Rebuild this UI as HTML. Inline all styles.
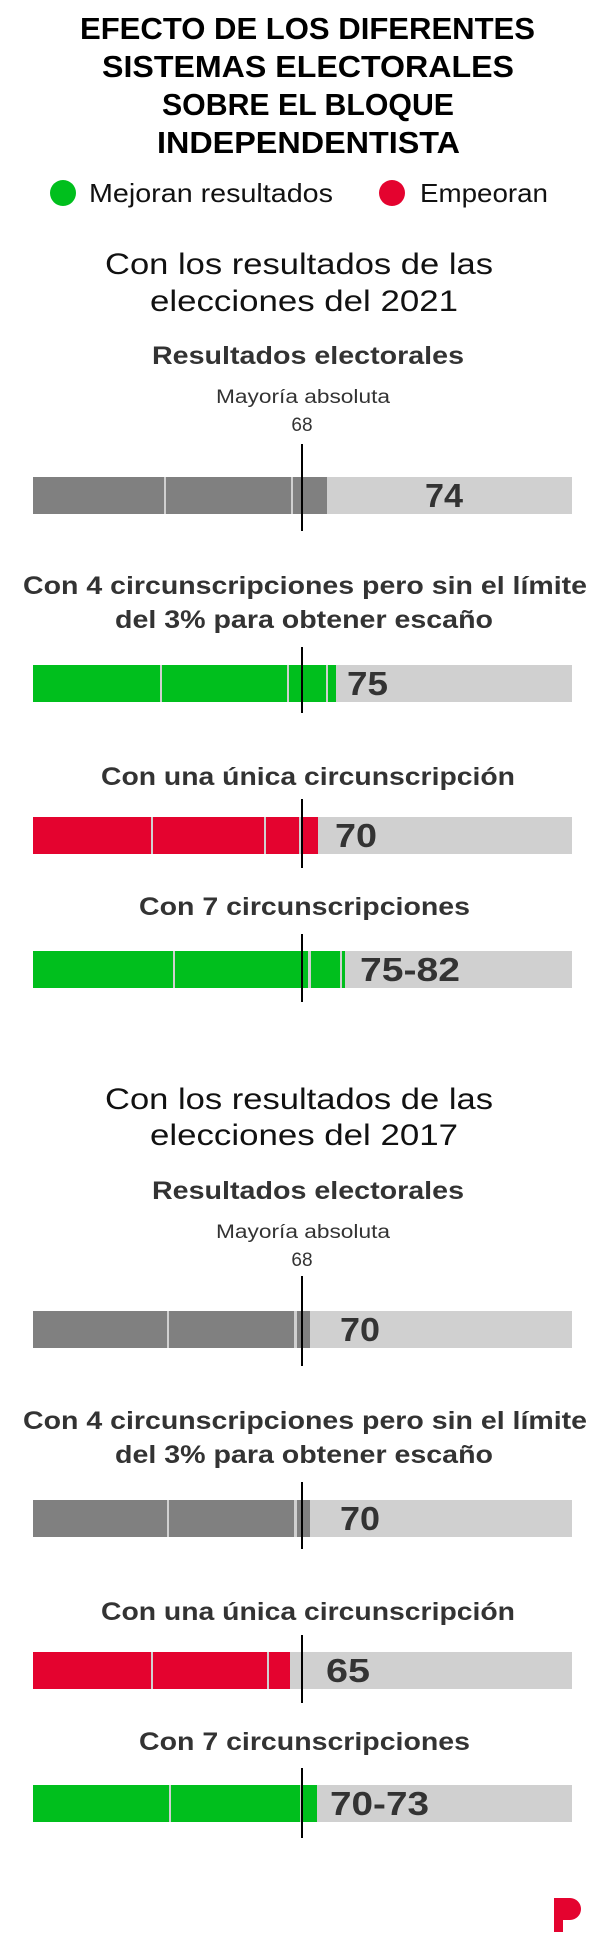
<!DOCTYPE html>
<html><head><meta charset="utf-8"><style>html,body{margin:0;padding:0;background:#fff}svg{display:block}</style></head>
<body>
<svg width="600" height="1950" viewBox="0 0 600 1950" xmlns="http://www.w3.org/2000/svg" font-family="Liberation Sans, sans-serif">
<g font-weight="900" font-size="31" fill="#000" text-anchor="start">
<text x="80" y="39" textLength="455" lengthAdjust="spacingAndGlyphs">EFECTO DE LOS DIFERENTES</text>
<text x="102" y="77" textLength="412" lengthAdjust="spacingAndGlyphs">SISTEMAS ELECTORALES</text>
<text x="162" y="115" textLength="292" lengthAdjust="spacingAndGlyphs">SOBRE EL BLOQUE</text>
<text x="157" y="153" textLength="303" lengthAdjust="spacingAndGlyphs">INDEPENDENTISTA</text>
</g>
<circle cx="63" cy="193" r="13" fill="#00bf1d"/>
<text x="89" y="202" font-size="26" fill="#111" textLength="244" lengthAdjust="spacingAndGlyphs">Mejoran resultados</text>
<circle cx="392" cy="193" r="13" fill="#e4032f"/>
<text x="420" y="202" font-size="26" fill="#111" textLength="128" lengthAdjust="spacingAndGlyphs">Empeoran</text>

<g font-size="30" fill="#111">
<text x="105" y="274" textLength="388" lengthAdjust="spacingAndGlyphs">Con los resultados de las</text>
<text x="150" y="311" textLength="308" lengthAdjust="spacingAndGlyphs">elecciones del 2021</text>
<text x="105" y="1109" textLength="388" lengthAdjust="spacingAndGlyphs">Con los resultados de las</text>
<text x="150" y="1145" textLength="308" lengthAdjust="spacingAndGlyphs">elecciones del 2017</text>
</g>

<g font-size="25" font-weight="bold" fill="#333">
<text x="152" y="364" textLength="312" lengthAdjust="spacingAndGlyphs">Resultados electorales</text>
<text x="23" y="594" textLength="564" lengthAdjust="spacingAndGlyphs">Con 4 circunscripciones pero sin el límite</text>
<text x="115" y="628" textLength="378" lengthAdjust="spacingAndGlyphs">del 3% para obtener escaño</text>
<text x="101" y="785" textLength="414" lengthAdjust="spacingAndGlyphs">Con una única circunscripción</text>
<text x="139" y="915" textLength="331" lengthAdjust="spacingAndGlyphs">Con 7 circunscripciones</text>
<text x="152" y="1199" textLength="312" lengthAdjust="spacingAndGlyphs">Resultados electorales</text>
<text x="23" y="1429" textLength="564" lengthAdjust="spacingAndGlyphs">Con 4 circunscripciones pero sin el límite</text>
<text x="115" y="1463" textLength="378" lengthAdjust="spacingAndGlyphs">del 3% para obtener escaño</text>
<text x="101" y="1620" textLength="414" lengthAdjust="spacingAndGlyphs">Con una única circunscripción</text>
<text x="139" y="1750" textLength="331" lengthAdjust="spacingAndGlyphs">Con 7 circunscripciones</text>
</g>

<g font-size="19" fill="#333">
<text x="216" y="403" textLength="174" lengthAdjust="spacingAndGlyphs">Mayoría absoluta</text>
<text x="302" y="431" text-anchor="middle">68</text>
<text x="216" y="1238" textLength="174" lengthAdjust="spacingAndGlyphs">Mayoría absoluta</text>
<text x="302" y="1266" text-anchor="middle">68</text>
</g>

<!-- Bar 1 -->
<rect x="33" y="477" width="539" height="37" fill="#d0d0d0"/>
<rect x="33" y="477" width="131" height="37" fill="#808080"/>
<rect x="166" y="477" width="125" height="37" fill="#808080"/>
<rect x="293" y="477" width="34" height="37" fill="#808080"/>
<!-- Bar 2 -->
<rect x="33" y="665" width="539" height="37" fill="#d0d0d0"/>
<rect x="33" y="665" width="127" height="37" fill="#00bf1d"/>
<rect x="162" y="665" width="125" height="37" fill="#00bf1d"/>
<rect x="289" y="665" width="37" height="37" fill="#00bf1d"/>
<rect x="328" y="665" width="8" height="37" fill="#00bf1d"/>
<!-- Bar 3 -->
<rect x="33" y="817" width="539" height="37" fill="#d0d0d0"/>
<rect x="33" y="817" width="118" height="37" fill="#e4032f"/>
<rect x="153" y="817" width="111" height="37" fill="#e4032f"/>
<rect x="266" y="817" width="33" height="37" fill="#e4032f"/>
<rect x="301" y="817" width="17" height="37" fill="#e4032f"/>
<!-- Bar 4 -->
<rect x="33" y="951" width="539" height="37" fill="#d0d0d0"/>
<rect x="33" y="951" width="140" height="37" fill="#00bf1d"/>
<rect x="175" y="951" width="133" height="37" fill="#00bf1d"/>
<rect x="311" y="951" width="29" height="37" fill="#00bf1d"/>
<rect x="342" y="951" width="3" height="37" fill="#00bf1d"/>
<!-- Bar 5 -->
<rect x="33" y="1311" width="539" height="37" fill="#d0d0d0"/>
<rect x="33" y="1311" width="134" height="37" fill="#808080"/>
<rect x="169" y="1311" width="125" height="37" fill="#808080"/>
<rect x="297" y="1311" width="13" height="37" fill="#808080"/>
<!-- Bar 6 -->
<rect x="33" y="1500" width="539" height="37" fill="#d0d0d0"/>
<rect x="33" y="1500" width="134" height="37" fill="#808080"/>
<rect x="169" y="1500" width="125" height="37" fill="#808080"/>
<rect x="297" y="1500" width="13" height="37" fill="#808080"/>
<!-- Bar 7 -->
<rect x="33" y="1652" width="539" height="37" fill="#d0d0d0"/>
<rect x="33" y="1652" width="118" height="37" fill="#e4032f"/>
<rect x="153" y="1652" width="114" height="37" fill="#e4032f"/>
<rect x="269" y="1652" width="21" height="37" fill="#e4032f"/>
<!-- Bar 8 -->
<rect x="33" y="1785" width="539" height="37" fill="#d0d0d0"/>
<rect x="33" y="1785" width="136" height="37" fill="#00bf1d"/>
<rect x="171" y="1785" width="129" height="37" fill="#00bf1d"/>
<rect x="303" y="1785" width="14" height="37" fill="#00bf1d"/>

<g stroke="#000" stroke-width="2">
<line x1="302" y1="444" x2="302" y2="531"/>
<line x1="302" y1="647" x2="302" y2="713"/>
<line x1="302" y1="799" x2="302" y2="868"/>
<line x1="302" y1="934" x2="302" y2="1002"/>
<line x1="302" y1="1276" x2="302" y2="1366"/>
<line x1="302" y1="1482" x2="302" y2="1549"/>
<line x1="302" y1="1635" x2="302" y2="1703"/>
<line x1="302" y1="1768" x2="302" y2="1838"/>
</g>

<g font-size="33" font-weight="bold" fill="#333">
<text x="425" y="507" textLength="38" lengthAdjust="spacingAndGlyphs">74</text>
<text x="347" y="695" textLength="41" lengthAdjust="spacingAndGlyphs">75</text>
<text x="335" y="847" textLength="42" lengthAdjust="spacingAndGlyphs">70</text>
<text x="360" y="981" textLength="100" lengthAdjust="spacingAndGlyphs">75-82</text>
<text x="340" y="1341" textLength="40" lengthAdjust="spacingAndGlyphs">70</text>
<text x="340" y="1530" textLength="40" lengthAdjust="spacingAndGlyphs">70</text>
<text x="326" y="1682" textLength="44" lengthAdjust="spacingAndGlyphs">65</text>
<text x="330" y="1815" textLength="99" lengthAdjust="spacingAndGlyphs">70-73</text>
</g>

<path d="M554 1898 H570 A11 11 0 0 1 570 1920 H563 V1932 H554 Z" fill="#e4032f"/>
</svg>
</body></html>
